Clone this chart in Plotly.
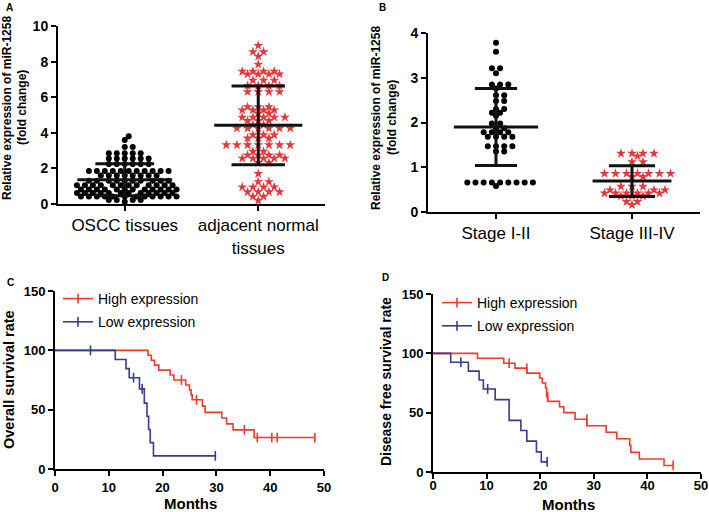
import plotly.graph_objects as go

FONT = "Arial, 'Liberation Sans', Helvetica, sans-serif"
STAR_RED = '#e23a3c'
KM_RED = '#ee3b2b'
KM_BLUE = '#3a3a90'

# ---------------- Panel A data ----------------
a_categories = ['OSCC tissues', 'adjacent normal<br>tissues']
a_oscc_values = [
    0.12,
    0.22, 0.22, 0.22, 0.22,
    0.42, 0.42, 0.42, 0.42, 0.42, 0.42, 0.42, 0.42, 0.42, 0.42, 0.42, 0.42,
    0.62, 0.62, 0.62, 0.62, 0.62, 0.62, 0.62, 0.62, 0.62, 0.62, 0.62, 0.62,
    0.82, 0.82, 0.82, 0.82, 0.82, 0.82, 0.82, 0.82, 0.82, 0.82, 0.82, 0.82,
    1.05, 1.05, 1.05, 1.05, 1.05, 1.05, 1.05, 1.05, 1.05, 1.05, 1.05, 1.05,
    1.3, 1.3, 1.3, 1.3, 1.3, 1.3, 1.3, 1.3, 1.3, 1.3,
    1.6, 1.6, 1.6, 1.6, 1.6, 1.6, 1.6, 1.6,
    1.85, 1.85, 1.85, 1.85, 1.85, 1.85, 1.85, 1.85, 1.85, 1.85, 1.85,
    2.25, 2.25, 2.25, 2.25, 2.25, 2.25,
    2.55, 2.55, 2.55, 2.55, 2.55, 2.55,
    2.85, 2.85, 2.85, 2.85, 2.85,
    3.2, 3.2, 3.6, 3.8,
]
a_normal_values = [
    0.2, 0.42, 0.42,
    0.68, 0.68, 0.68, 0.68,
    0.95, 0.95, 0.95, 0.95,
    1.25, 1.25, 1.7,
    2.32, 2.32,
    2.57, 2.57, 2.57, 2.57, 2.57,
    2.75, 2.75, 2.75, 2.75,
    2.95, 2.95,
    3.32, 3.32, 3.32, 3.32, 3.32, 3.32, 3.32,
    3.7, 3.7, 3.7,
    3.88, 3.88, 3.88,
    4.25, 4.25, 4.25, 4.25, 4.25, 4.25,
    4.45, 4.45,
    4.68, 4.68, 4.68,
    4.87, 4.87, 4.87, 4.87, 4.87,
    5.1, 5.1,
    5.28, 5.28, 5.28, 5.28,
    5.45, 5.45, 5.45,
    6.3, 6.3, 6.3, 6.3,
    6.65, 6.65, 6.65, 6.65,
    6.95, 6.95, 6.95,
    7.3, 7.3, 7.3, 7.3,
    7.45, 7.45, 7.45, 7.45,
    7.85, 8.3, 8.55, 8.55, 8.9,
]
a_means = [1.36, 4.42]
a_sds = [0.90, 2.21]
a_yticks = [0, 2, 4, 6, 8, 10]

# ---------------- Panel B data ----------------
b_categories = ['Stage I-II', 'Stage III-IV']
b_early_values = [
    0.58, 0.66, 0.66, 0.66, 0.66, 0.66, 0.66, 0.66, 0.66, 0.66,
    1.35, 1.35,
    1.47, 1.47, 1.47, 1.47,
    1.68, 1.68, 1.68, 1.68,
    1.78, 1.78, 1.78, 1.78,
    1.87, 1.87,
    1.98, 1.98,
    2.15, 2.22, 2.22,
    2.3, 2.3,
    2.48, 2.48,
    2.61, 2.61,
    2.76,
    2.85, 2.85, 2.85,
    3.1, 3.21, 3.21, 3.58, 3.78,
]
b_late_values = [
    0.16, 0.23, 0.23,
    0.36, 0.36, 0.36,
    0.42, 0.42, 0.42, 0.42, 0.42, 0.42,
    0.49, 0.49, 0.49,
    0.57, 0.57, 0.57,
    0.79, 0.79,
    0.86, 0.86, 0.86, 0.86, 0.86, 0.86, 0.86,
    1.12, 1.12, 1.25,
    1.31, 1.31, 1.31, 1.31,
]
b_means = [1.90, 0.69]
b_sds = [0.86, 0.345]
b_yticks = [0, 1, 2, 3, 4]

# ---------------- Panel C data (overall survival) ----------------
c_high_times = [17.3, 17.9, 18.5, 19.3, 21.4, 22.1, 24.3, 25.0, 25.3, 25.5,
                27.4, 27.9, 31.0, 31.9, 33.1, 37.0]
c_high_surv = [95.8, 91.7, 87.5, 83.3, 79.2, 75.0, 70.8, 66.7, 62.5, 58.3,
               53.0, 47.7, 43.0, 38.0, 33.0, 26.5]
c_high_censor = [23.5, 26.3, 35.2, 37.6, 40.3, 41.3, 48.3]
c_low_times = [11.2, 13.2, 13.8, 15.7, 16.6, 17.1, 17.4, 17.7, 18.3]
c_low_surv = [92.3, 84.6, 76.9, 67.5, 55.5, 44.4, 33.3, 22.2, 11.1]
c_low_censor = [6.6, 14.6, 16.2, 29.8]

# ---------------- Panel D data (disease free survival) ----------------
d_high_times = [8.3, 13.2, 15.3, 17.5, 19.9, 20.4, 21.0, 21.2, 21.4, 23.6, 24.4,
                26.5, 28.7, 32.3, 34.3, 36.7, 36.9, 38.5, 43.1]
d_high_surv = [95.8, 91.7, 87.5, 83.3, 79.2, 75.0, 71.0, 63.5, 59.5, 55.0, 50.0,
               44.5, 39.0, 33.5, 28.0, 22.5, 16.5, 11.0, 5.5]
d_high_censor = [14.2, 17.5, 21.4, 28.7, 44.8]
d_low_times = [3.3, 6.6, 8.6, 9.4, 11.6, 14.2, 16.4, 17.5, 19.3, 20.2]
d_low_surv = [92.5, 85.0, 77.5, 70.0, 61.0, 43.5, 35.0, 26.0, 17.0, 8.5]
d_low_censor = [5.2, 10.2, 21.3]

km_xticks = [0, 10, 20, 30, 40, 50]
km_yticks = [0, 50, 100, 150]
legend_names = ['High expression', 'Low expression']

W, H = 709, 512


def swarm(values, center, ypx, xpx, step, gap):
    """Deterministic beeswarm: offsets (data units) avoiding overlap in pixel space."""
    order = sorted(range(len(values)), key=lambda i: values[i])
    placed = []
    xs = [0.0] * len(values)
    for i in order:
        v = values[i]
        k = 0
        while True:
            m = (k + 1) // 2
            off = m * step * (1 if k % 2 == 1 else -1)
            ok = True
            for px, pv in placed:
                if (off - px) ** 2 + ((v - pv) * ypx) ** 2 < gap ** 2 - 1e-6:
                    ok = False
                    break
            if ok:
                break
            k += 1
        placed.append((off, v))
        xs[i] = center + off / xpx
    return xs


def errbar(center, mean, sd, half_mean, half_cap):
    xs = [center - half_mean, center + half_mean, None,
          center - half_cap, center + half_cap, None,
          center - half_cap, center + half_cap, None,
          center, center]
    ys = [mean, mean, None,
          mean + sd, mean + sd, None,
          mean - sd, mean - sd, None,
          mean - sd, mean + sd]
    return xs, ys


def km_curve(times, surv, censor):
    cens_y = []
    for c in censor:
        level = 100.0
        for t, s in zip(times, surv):
            if t < c:
                level = s
        cens_y.append(level)
    pts = [(0.0, 100.0)] + list(zip(times, surv)) + list(zip(censor, cens_y))
    pts.sort(key=lambda p: (p[0], -p[1]))
    return [p[0] for p in pts], [p[1] for p in pts], cens_y


fig = go.Figure()

# Panel A scatter
a_pxy = (204 - 26) / 10.0
a_pxx = 134.0
fig.add_trace(go.Scatter(
    x=swarm(a_oscc_values, 0, a_pxy, a_pxx, 4.0, 5.0), y=a_oscc_values,
    mode='markers', marker=dict(symbol='circle', size=6, color='black'),
    xaxis='x', yaxis='y', showlegend=False, cliponaxis=False))
fig.add_trace(go.Scatter(
    x=swarm(a_normal_values, 1, a_pxy, a_pxx, 5.35, 5.8), y=a_normal_values,
    mode='markers', marker=dict(symbol='star', size=7.5, color=STAR_RED, line=dict(width=0)),
    xaxis='x', yaxis='y', showlegend=False, cliponaxis=False))
for i, (hm, hc) in enumerate([(0.355, 0.22), (0.33, 0.2)]):
    ex, ey = errbar(i, a_means[i], a_sds[i], hm, hc)
    fig.add_trace(go.Scatter(x=ex, y=ey, mode='lines', line=dict(color='#111111', width=3),
                             xaxis='x', yaxis='y', showlegend=False, cliponaxis=False))

# Panel B scatter
b_pxy = (212 - 33) / 4.0
b_pxx = 136.0
fig.add_trace(go.Scatter(
    x=swarm(b_early_values, 0, b_pxy, b_pxx, 4.1, 5.0), y=b_early_values,
    mode='markers', marker=dict(symbol='circle', size=6, color='black'),
    xaxis='x2', yaxis='y2', showlegend=False, cliponaxis=False))
fig.add_trace(go.Scatter(
    x=swarm(b_late_values, 1, b_pxy, b_pxx, 5.5, 6.0), y=b_late_values,
    mode='markers', marker=dict(symbol='star', size=7.5, color=STAR_RED, line=dict(width=0)),
    xaxis='x2', yaxis='y2', showlegend=False, cliponaxis=False))
for i, (hm, hc) in enumerate([(0.31, 0.155), (0.29, 0.17)]):
    ex, ey = errbar(i, b_means[i], b_sds[i], hm, hc)
    fig.add_trace(go.Scatter(x=ex, y=ey, mode='lines', line=dict(color='#111111', width=3),
                             xaxis='x2', yaxis='y2', showlegend=False, cliponaxis=False))

# KM panels
km_sets = [
    ('x3', 'y3', 'legend', [(c_high_times, c_high_surv, c_high_censor, KM_RED),
                            (c_low_times, c_low_surv, c_low_censor, KM_BLUE)]),
    ('x4', 'y4', 'legend2', [(d_high_times, d_high_surv, d_high_censor, KM_RED),
                             (d_low_times, d_low_surv, d_low_censor, KM_BLUE)]),
]
for xa, ya, lg, curves in km_sets:
    for j, (t, s, c, col) in enumerate(curves):
        kx, ky, cy = km_curve(t, s, c)
        fig.add_trace(go.Scatter(x=kx, y=ky, mode='lines', line=dict(color=col, width=1.6, shape='hv'),
                                 xaxis=xa, yaxis=ya, showlegend=False, cliponaxis=False))
        fig.add_trace(go.Scatter(x=c, y=cy, mode='markers',
                                 marker=dict(symbol='line-ns', size=7, color=col, line=dict(width=1.6, color=col)),
                                 xaxis=xa, yaxis=ya, showlegend=False, cliponaxis=False))
        fig.add_trace(go.Scatter(x=[None], y=[None], mode='lines+markers', name=legend_names[j],
                                 line=dict(color=col, width=1.6),
                                 marker=dict(symbol='line-ns', size=7, color=col, line=dict(width=1.6, color=col)),
                                 xaxis=xa, yaxis=ya, legend=lg, legendgroup=lg + str(j), showlegend=True))


def ax(**kw):
    d = dict(showline=True, linecolor='black', linewidth=2, ticks='outside', ticklen=5,
             tickwidth=2, tickcolor='black', showgrid=False, zeroline=False, fixedrange=True,
             automargin=False)
    d.update(kw)
    return d


bold13 = dict(family=FONT, size=13, color='black', weight='bold')
bold14 = dict(family=FONT, size=14, color='black', weight='bold')
reg17 = dict(family=FONT, size=17, color='black')

fig.update_layout(
    width=W, height=H, margin=dict(l=0, r=0, t=0, b=0, pad=0), autosize=False,
    paper_bgcolor='white', plot_bgcolor='white', font=dict(family=FONT, color='black'),
    xaxis=ax(domain=[58 / W, 325 / W], range=[-0.5, 1.5], tickvals=[0, 1], ticktext=a_categories,
             tickfont=reg17, anchor='y'),
    yaxis=ax(domain=[1 - 204 / H, 1 - 26 / H], range=[0, 10], tickvals=a_yticks, tickfont=bold14, anchor='x'),
    xaxis2=ax(domain=[428 / W, 700 / W], range=[-0.5, 1.5], tickvals=[0, 1], ticktext=b_categories,
              tickfont=reg17, anchor='y2'),
    yaxis2=ax(domain=[1 - 212 / H, 1 - 33 / H], range=[0, 4], tickvals=b_yticks, tickfont=bold14, anchor='x2'),
    xaxis3=ax(domain=[55 / W, 324 / W], range=[0, 50], tickvals=km_xticks, tickfont=bold13, anchor='y3'),
    yaxis3=ax(domain=[1 - 469 / H, 1 - 291 / H], range=[0, 150], tickvals=km_yticks, tickfont=bold13, anchor='x3'),
    xaxis4=ax(domain=[433 / W, 701 / W], range=[0, 50], tickvals=km_xticks, tickfont=bold13, anchor='y4',
              ticklabelstandoff=-5),
    yaxis4=ax(domain=[1 - 472 / H, 1 - 294 / H], range=[0, 150], tickvals=km_yticks, tickfont=bold13, anchor='x4'),
    legend=dict(x=58 / W, y=1 - 283 / H, xanchor='left', yanchor='top', bgcolor='rgba(0,0,0,0)',
                font=dict(family=FONT, size=14, color='black'), itemwidth=30, tracegroupgap=2,
                traceorder='grouped'),
    legend2=dict(x=437 / W, y=1 - 287 / H, xanchor='left', yanchor='top', bgcolor='rgba(0,0,0,0)',
                 font=dict(family=FONT, size=14, color='black'), itemwidth=30, tracegroupgap=2,
                 traceorder='grouped'),
)

ann = []


def add_text(text, x, y, size, bold=True, angle=0):
    ann.append(dict(text=text, x=x / W, y=1 - y / H, xref='paper', yref='paper', showarrow=False,
                    xanchor='center', yanchor='middle', textangle=angle,
                    font=dict(family=FONT, size=size, color='black', weight='bold' if bold else 'normal')))


# panel labels
add_text('A', 9, 7, 10)
add_text('B', 382, 7, 10)
add_text('C', 10, 282, 10)
add_text('D', 385, 277, 10)
# y-axis titles
add_text('Relative expression of miR-1258', 7, 108, 12, angle=-90)
add_text('(fold change)', 22, 108, 12, angle=-90)
add_text('Relative expression of miR-1258', 376, 118, 12, angle=-90)
add_text('(fold change)', 392, 118, 12, angle=-90)
add_text('Overall survival rate', 9, 380, 14.5, angle=-90)
add_text('Disease free survival rate', 386, 382, 14, angle=-90)
# x-axis titles
add_text('Months', 190, 503, 15)
add_text('Months', 568, 504, 15)

fig.update_layout(annotations=ann)
fig.write_html('out.html', config={'displayModeBar': False},
               post_script="document.body.style.margin='0';document.body.style.overflow='hidden';")
